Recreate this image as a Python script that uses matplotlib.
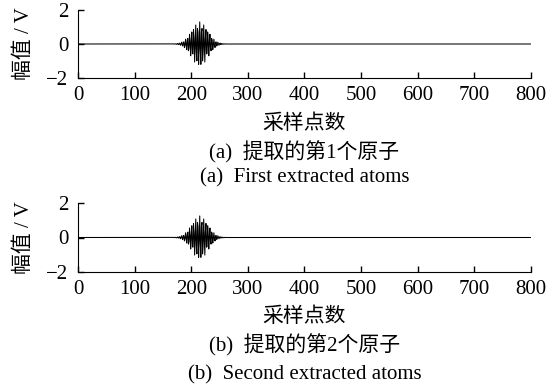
import numpy as np
import matplotlib.pyplot as plt

plt.rcParams['font.family'] = ['Liberation Serif', 'Noto Sans CJK SC']
plt.rcParams['font.size'] = 15

# atoms: centre, width, frequency, amplitude
n_samples = 800
centres = [215, 215]
widths = [36, 36]
freqs = [0.28, 0.28]
amps = [1.3, 1.25]
captions_cn = ["(a)  提取的第1个原子", "(b)  提取的第2个原子"]
captions_en = ["(a)  First extracted atoms", "(b)  Second extracted atoms"]
xticks = [0, 100, 200, 300, 400, 500, 600, 700, 800]
yticks = [-2, 0, 2]

t = np.arange(n_samples)

fig = plt.figure(figsize=(5.48, 3.87), dpi=100)
boxes = [[0.1423, 1 - 78/387, 0.8267, 68/387],
         [0.1423, 1 - 272/387, 0.8267, 69/387]]
cap_y = [(124, 152, 178), (317, 345, 375)]

for i in range(2):
    ax = fig.add_axes(boxes[i])
    g = np.exp(-np.pi*((t - centres[i])/widths[i])**2)
    y = amps[i]*g*np.cos(2*np.pi*freqs[i]*(t - centres[i]))
    ax.plot(t, y, color='black', linewidth=0.75)
    ax.set_xlim(0, 800)
    ax.set_ylim(-2, 2)
    ax.set_xticks(xticks)
    ax.set_yticks(yticks)
    ax.spines['top'].set_visible(False)
    ax.spines['right'].set_visible(False)
    ax.tick_params(direction='in', length=4, width=1)
    ax.tick_params(axis='x', pad=6)
    ax.tick_params(axis='y', pad=7)
    ax.set_ylabel("幅值 / V", labelpad=9)
    cx = 0.1423 + 0.8267/2
    fig.text(cx, 1 - cap_y[i][0]/387, "采样点数", ha='center', va='center')
    fig.text(cx, 1 - cap_y[i][1]/387, captions_cn[i], ha='center', va='center')
    fig.text(cx, 1 - cap_y[i][2]/387, captions_en[i], ha='center', va='center')

fig.savefig("out.png", dpi=100)
